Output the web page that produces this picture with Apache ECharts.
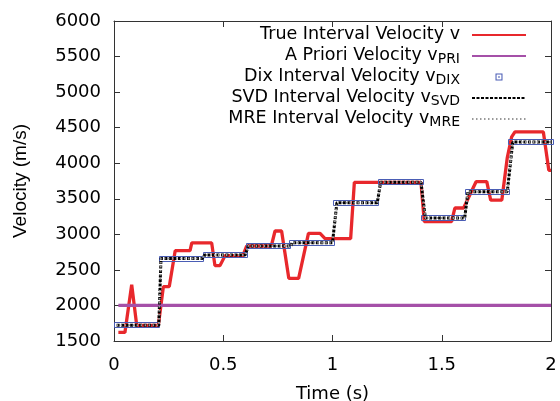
<!DOCTYPE html>
<html><head><meta charset="utf-8">
<script src="https://cdn.jsdelivr.net/npm/echarts@6/dist/echarts.min.js"></script>
<style>html,body{margin:0;padding:0;background:#fff}#c{width:560px;height:401px}</style>
</head><body><div id="c"></div>
<script>
// ---- data ----
const xTicks = [0, 0.5, 1, 1.5, 2];
const yTicks = [1500, 2000, 2500, 3000, 3500, 4000, 4500, 5000, 5500, 6000];
const seriesBase = ['True Interval Velocity v', 'A Priori Velocity v', 'Dix Interval Velocity v', 'SVD Interval Velocity v', 'MRE Interval Velocity v'];
const seriesSub = ['', 'PRI', 'DIX', 'SVD', 'MRE'];

const trueT = [0.02,0.05,0.081,0.104,0.203,0.226,0.253,0.28,0.348,0.356,0.447,0.462,0.485,0.508,0.59,0.607,0.72,0.737,0.767,0.80,0.845,0.89,0.943,0.966,1.083,1.10,1.405,1.42,1.545,1.56,1.60,1.657,1.706,1.724,1.775,1.80,1.82,1.835,1.965,1.99,2.0];
const trueV = [1620,1620,2290,1720,1720,2265,2265,2770,2770,2880,2880,2560,2560,2700,2700,2836,2836,3047,3047,2381,2381,3014,3014,2940,2940,3730,3730,3180,3180,3370,3370,3740,3740,3482,3482,4080,4370,4440,4440,3900,3900];

const prioriT = [0.02, 2.0];
const prioriV = [2000, 2000];

const dixStart = [0.015,0.22,0.42,0.62,0.815,1.015,1.22,1.42,1.62,1.817];
const dixEnd   = [0.20,0.40,0.60,0.80,1.0,1.20,1.405,1.60,1.80,2.0];
const dixV     = [1720,2660,2710,2836,2882,3444,3731,3230,3600,4297];

const svdT = [0.012,0.205,0.215,0.405,0.415,0.60,0.615,0.81,0.815,1.0,1.02,1.205,1.22,1.405,1.425,1.605,1.62,1.80,1.825,2.0];
const svdV = [1720,1720,2660,2660,2710,2710,2836,2836,2882,2882,3444,3444,3731,3731,3230,3230,3600,3600,4297,4297];

const mreT = [0.012,0.205,0.215,0.405,0.415,0.60,0.615,0.81,0.815,1.0,1.02,1.205,1.22,1.405,1.425,1.605,1.62,1.80,1.825,2.0];
const mreV = [1720,1720,2660,2660,2710,2710,2836,2836,2882,2882,3444,3444,3731,3731,3230,3230,3600,3600,4297,4297];

// ---- build ----
const names = seriesBase.map((b, i) => b + seriesSub[i]);
const pairs = (t, v) => t.map((x, i) => [x, v[i]]);
const FONT = 'DejaVu Sans';
const AX = '#333';

const chart = echarts.init(document.getElementById('c'), null, {renderer: 'canvas'});
const baseAxis = {
  type: 'value', splitLine: {show: false},
  axisLine: {show: true, onZero: false, lineStyle: {color: AX, width: 1}},
  axisTick: {show: true, inside: true, length: 6, lineStyle: {color: AX, width: 1}}
};
const hideSym = {opacity: 0};
chart.setOption({
  animation: false,
  backgroundColor: '#fff',
  grid: {left: 114, right: 9, top: 21, bottom: 60, show: false, containLabel: false, outerBoundsMode: 'none'},
  xAxis: [
    Object.assign({}, baseAxis, {
      min: xTicks[0], max: xTicks[xTicks.length - 1], interval: xTicks[1] - xTicks[0],
      position: 'bottom',
      axisLabel: {margin: 15, fontFamily: FONT, fontSize: 18, color: '#000', formatter: v => String(v)},
      name: 'Time (s)', nameLocation: 'middle', nameGap: 44,
      nameTextStyle: {fontFamily: FONT, fontSize: 18, color: '#000'}
    }),
    Object.assign({}, baseAxis, {
      min: xTicks[0], max: xTicks[xTicks.length - 1], interval: xTicks[1] - xTicks[0],
      position: 'top', axisLabel: {show: false}
    })
  ],
  yAxis: [
    Object.assign({}, baseAxis, {
      min: yTicks[0], max: yTicks[yTicks.length - 1], interval: yTicks[1] - yTicks[0],
      position: 'left',
      axisLabel: {margin: 13, fontFamily: FONT, fontSize: 18, color: '#000', formatter: v => String(v)},
      name: 'Velocity (m/s)', nameLocation: 'middle', nameGap: 84,
      nameTextStyle: {fontFamily: 'Liberation Sans', fontSize: 19, color: '#000'}
    }),
    Object.assign({}, baseAxis, {
      min: yTicks[0], max: yTicks[yTicks.length - 1], interval: yTicks[1] - yTicks[0],
      position: 'right', axisLabel: {show: false}
    })
  ],
  legend: {
    orient: 'vertical', right: 33, top: 25, padding: 0, align: 'right',
    itemWidth: 54, itemHeight: 7, itemGap: 1,
    data: [
      {name: names[0], itemStyle: hideSym},
      {name: names[1], itemStyle: hideSym},
      {name: names[2], icon: 'path://M0,0H10V10H0ZM1.5,1.5V8.5H8.5V1.5ZM4,4H6V6H4Z'},
      {name: names[3], itemStyle: hideSym},
      {name: names[4], itemStyle: hideSym}
    ],
    formatter: function (n) {
      const i = names.indexOf(n);
      const sub = seriesSub[i] ? '{s|' + seriesSub[i] + '}' : '{z| }';
      return '{m|' + seriesBase[i] + '}' + sub + '{g| }';
    },
    textStyle: {
      rich: {
        m: {fontFamily: FONT, fontSize: 17.5, lineHeight: 20, verticalAlign: 'top', color: '#000'},
        s: {fontFamily: FONT, fontSize: 14, lineHeight: 14, padding: [6, 0, 0, 0], verticalAlign: 'top', color: '#000'},
        z: {fontFamily: FONT, fontSize: 14, lineHeight: 14, padding: [6, 0, 0, 0], verticalAlign: 'top', width: 0.01},
        g: {fontSize: 10, lineHeight: 10, width: 7}
      }
    }
  },
  series: [
    {name: names[0], type: 'line', symbol: 'none', data: pairs(trueT, trueV),
     lineStyle: {color: '#e8282c', width: 3.3}, itemStyle: {color: '#e8282c'}, z: 2},
    {name: names[1], type: 'line', symbol: 'none', data: pairs(prioriT, prioriV),
     lineStyle: {color: '#a550a8', width: 3.3}, itemStyle: {color: '#a550a8'}, z: 3},
    {name: names[2], type: 'custom', z: 4,
     itemStyle: {color: '#4a5db5'},
     encode: {x: [0, 1], y: 2},
     data: dixStart.map((s, i) => [s, dixEnd[i], dixV[i]]),
     renderItem: function (params, api) {
       const a = api.coord([api.value(0), api.value(2)]);
       const b = api.coord([api.value(1), api.value(2)]);
       return {type: 'rect',
         shape: {x: Math.round(a[0]) - 2.5, y: Math.round(a[1]) - 2.5, width: Math.round(b[0] - a[0]) + 5, height: 5},
         style: {fill: 'none', stroke: '#4a5db5', lineWidth: 1}};
     }},
    {name: names[3], type: 'line', symbol: 'none', data: pairs(svdT, svdV),
     lineStyle: {color: '#000', width: 3, type: [3, 1.5]}, itemStyle: {color: '#000'}, z: 5},
    {name: names[4], type: 'line', symbol: 'none', data: pairs(mreT, mreV),
     lineStyle: {color: '#999', width: 2, type: [1.5, 2.5]}, itemStyle: {color: '#999'}, z: 6}
  ]
});
</script>
</body></html>
